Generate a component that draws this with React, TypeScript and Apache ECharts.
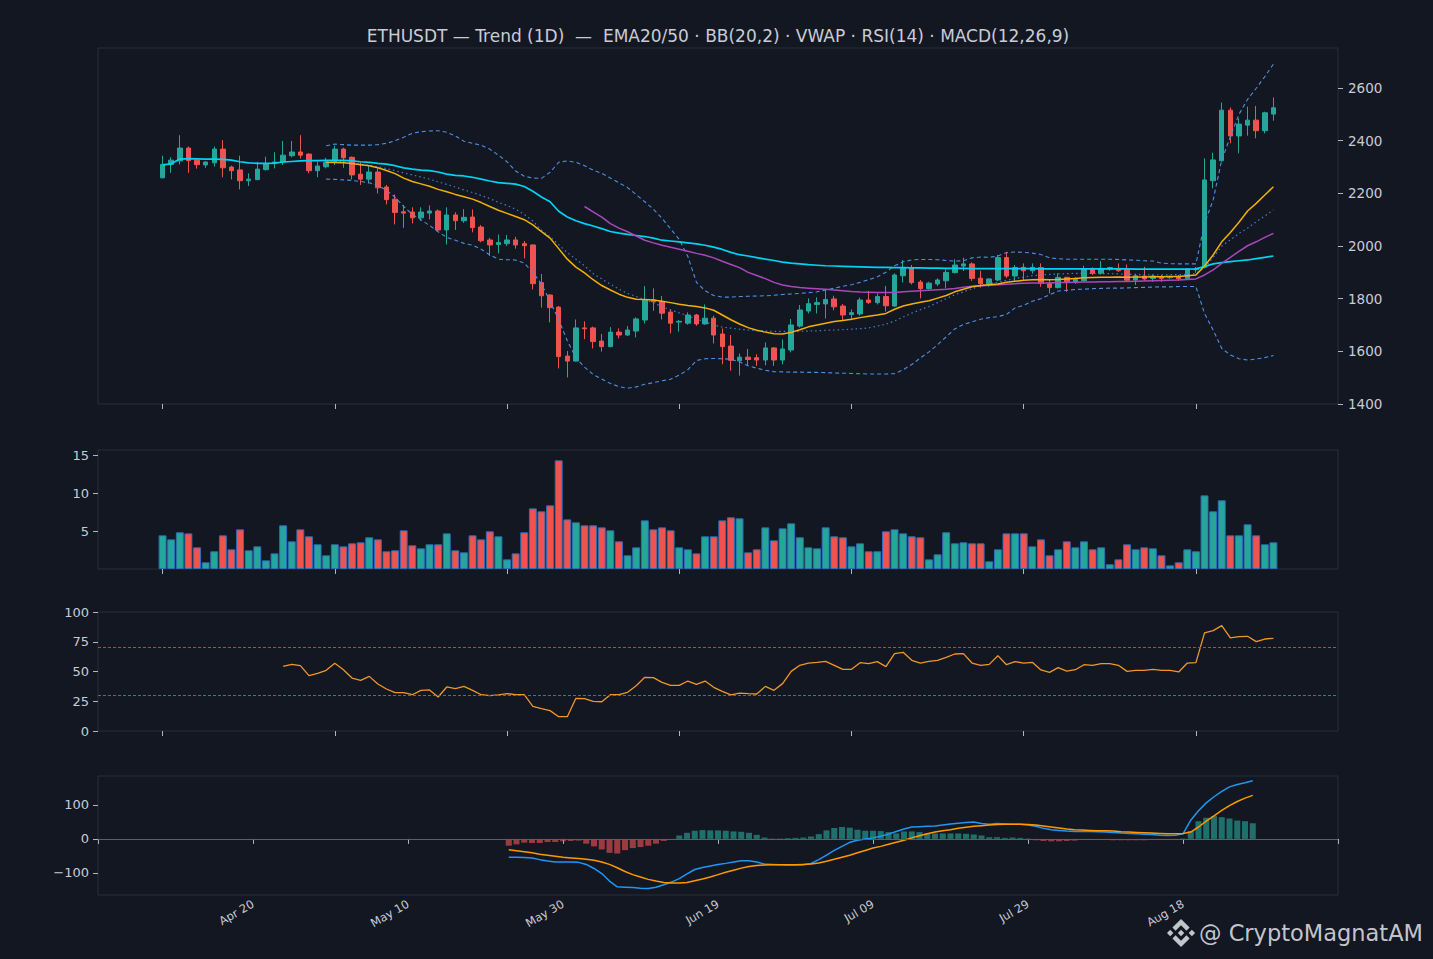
import React, { useEffect, useRef } from "react";
import * as echarts from "echarts";

// ---------- DATA ----------
const OPEN = [2259,2310,2323,2372,2326,2308,2316,2368,2300,2289,2248,2252,2290,2313,2319,2343,2357,2349,2286,2301,
2323,2368,2337,2273,2254,2281,2224,2178,2130,2129,2107,2125,2133,2061,2118,2096,2110,2072,2023,2006,
2009,2023,2009,2004,1861,1814,1768,1582,1563,1689,1689,1639,1618,1673,1662,1677,1719,1795,1789,1749,
1711,1707,1738,1704,1726,1666,1620,1564,1578,1576,1567,1613,1567,1605,1696,1753,1778,1780,1799,1772,
1740,1742,1795,1785,1808,1772,1887,1918,1863,1838,1856,1868,1899,1924,1932,1878,1856,1871,1956,1886,
1919,1906,1918,1858,1842,1881,1862,1868,1911,1897,1913,1915,1911,1871,1886,1877,1883,1880,1883,1877,
1910,1919,2248,2324,2516,2418,2459,2478,2438,2501];
const CLOSE = [2310,2326,2372,2324,2309,2319,2368,2297,2286,2248,2254,2292,2313,2319,2345,2357,2345,2286,2304,2318,
2368,2335,2270,2254,2281,2221,2176,2127,2125,2107,2129,2133,2061,2118,2096,2109,2070,2020,2004,2013,
2023,2004,2001,1857,1811,1766,1580,1563,1689,1686,1637,1618,1673,1662,1681,1723,1795,1788,1745,1707,
1714,1738,1704,1726,1662,1618,1566,1578,1569,1567,1613,1567,1609,1700,1757,1781,1785,1797,1769,1738,
1747,1795,1785,1808,1773,1890,1918,1861,1838,1859,1871,1900,1928,1932,1877,1857,1875,1956,1886,1918,
1906,1919,1858,1842,1881,1864,1873,1913,1897,1915,1918,1906,1870,1887,1875,1886,1877,1883,1875,1913,
1912,2251,2327,2516,2418,2463,2478,2438,2506,2525];
const LOW = [2257,2278,2310,2278,2294,2297,2302,2261,2253,2215,2228,2251,2287,2295,2308,2337,2333,2276,2261,2295,
2308,2297,2253,2232,2238,2200,2158,2082,2069,2086,2096,2101,2056,2006,2061,2088,2052,2014,1962,1972,
2000,1990,1953,1835,1766,1710,1535,1501,1561,1646,1611,1599,1615,1649,1658,1653,1706,1754,1721,1668,
1675,1701,1697,1701,1630,1551,1527,1508,1548,1545,1547,1545,1551,1596,1690,1744,1744,1725,1756,1715,
1718,1735,1780,1778,1751,1768,1862,1854,1801,1835,1848,1839,1896,1905,1867,1842,1845,1867,1878,1864,
1871,1895,1845,1820,1839,1826,1856,1864,1890,1892,1906,1902,1864,1852,1868,1864,1864,1875,1867,1875,
1898,1915,2219,2320,2390,2352,2419,2409,2428,2476];
const HIGH = [2343,2337,2421,2378,2333,2322,2378,2402,2305,2343,2276,2320,2339,2356,2399,2399,2421,2352,2320,2335,
2381,2373,2340,2318,2308,2295,2232,2196,2156,2147,2147,2154,2139,2147,2128,2140,2139,2080,2031,2044,
2042,2035,2019,2006,1894,1816,1772,1601,1721,1714,1694,1666,1692,1687,1696,1729,1848,1839,1810,1759,
1719,1748,1742,1778,1735,1687,1662,1592,1609,1589,1634,1616,1645,1723,1776,1801,1805,1833,1811,1780,
1759,1804,1830,1820,1848,1896,1947,1928,1871,1864,1877,1913,1950,1956,1938,1906,1877,1966,1978,1928,
1934,1934,1934,1871,1896,1883,1881,1925,1919,1943,1921,1934,1930,1894,1921,1892,1890,1887,1890,1915,
1920,2333,2354,2545,2526,2485,2529,2532,2510,2564];
const VOLUME = [4.43,3.90,4.83,4.69,2.85,0.88,2.33,4.43,2.59,5.22,
2.46,2.98,1.14,2.06,5.75,3.64,5.22,4.30,3.25,1.80,
3.25,2.98,3.38,3.51,4.17,3.90,2.33,2.46,5.09,3.12,
2.72,3.25,3.25,4.69,2.46,2.19,4.43,3.90,4.96,4.30,
1.27,2.06,4.83,7.98,7.59,8.38,14.30,6.53,6.14,5.75,
5.75,5.48,5.09,3.64,1.80,2.85,6.40,5.22,5.48,5.09,
2.85,2.59,2.06,4.30,4.30,6.40,6.80,6.67,2.19,2.59,
5.48,3.77,5.35,6.01,4.17,2.85,2.72,5.48,4.30,4.17,
2.98,3.38,2.33,2.33,4.96,5.22,4.69,4.30,4.17,1.27,
1.93,4.83,3.38,3.51,3.38,3.38,1.01,2.59,4.69,4.69,
4.69,2.98,3.90,1.80,2.59,3.64,2.85,3.64,2.59,2.85,
0.62,1.27,3.25,2.59,2.85,2.72,1.80,0.48,0.88,2.59,
2.33,9.69,7.59,9.04,4.43,4.43,5.88,4.43,3.25,3.51];

const VWAP = [2308,2312,2330,2332,2331,2330,2330,2329,2326,2320,
2316,2314,2314,2315,2319,2321,2323,2324,2324,2325,
2325,2325,2323,2320,2318,2314,2311,2305,2297,2292,
2288,2286,2281,2273,2268,2266,2261,2254,2247,2241,
2238,2235,2226,2208,2186,2168,2132,2110,2096,2085,
2076,2066,2055,2049,2044,2040,2036,2030,2022,2019,
2016,2012,2008,2003,1996,1987,1976,1967,1962,1956,
1950,1945,1939,1935,1932,1929,1927,1925,1924,1923,
1922,1921,1920,1919,1919,1918,1918,1917,1917,1916,
1916,1915,1915,1915,1914,1914,1914,1914,1914,1914,
1914,1914,1913,1913,1913,1913,1913,1913,1913,1913,
1913,1913,1913,1912,1912,1912,1912,1912,1912,1912,
1913,1922,1932,1937,1941,1944,1947,1952,1957,1962];

const BB_START = 19;
const EMA20 = [2318,2317,2316,2313,2309,2305,2297,2287,2275,2258,
2245,2236,2227,2215,2206,2196,2187,2178,2165,2150,
2136,2124,2112,2100,2080,2055,2030,1990,1950,1920,
1898,1872,1850,1833,1817,1805,1798,1797,1795,1790,
1785,1779,1774,1770,1765,1756,1738,1720,1704,1690,
1680,1673,1667,1666,1672,1682,1693,1700,1707,1713,
1717,1722,1728,1733,1738,1744,1760,1772,1780,1786,
1792,1802,1812,1826,1836,1845,1850,1853,1856,1862,
1866,1870,1872,1873,1872,1873,1875,1877,1879,1880,
1881,1881,1882,1881,1882,1882,1883,1883,1884,1884,
1887,1890,1924,1966,2016,2051,2090,2133,2162,2194,2225];
const BB_MID = [2322,2322,2320,2316,2311,2307,2301,2294,2286,2278,
2270,2262,2254,2244,2234,2224,2213,2203,2192,2180,
2166,2154,2140,2120,2095,2060,2035,2005,1975,1950,
1925,1895,1875,1855,1836,1820,1808,1797,1784,1770,
1757,1746,1735,1723,1712,1700,1692,1688,1684,1681,
1679,1677,1676,1676,1676,1676,1677,1678,1680,1681,
1682,1684,1686,1689,1696,1703,1715,1730,1745,1758,
1770,1785,1800,1815,1826,1838,1848,1856,1863,1870,
1876,1882,1887,1890,1892,1894,1895,1896,1896,1896,
1895,1895,1894,1893,1892,1891,1890,1890,1891,1891,
1892,1896,1918,1956,2000,2023,2048,2068,2092,2114,2137];
const BB_UP = [2381,2387,2385,2383,2383,2383,2385,2390,2400,2413,
2428,2434,2437,2438,2432,2418,2398,2390,2383,2368,
2345,2320,2285,2265,2258,2257,2280,2318,2323,2318,
2305,2288,2276,2258,2240,2222,2195,2168,2140,2105,
2065,2025,1960,1862,1830,1812,1806,1806,1808,1809,
1810,1811,1813,1816,1818,1820,1823,1826,1833,1840,
1847,1853,1862,1872,1883,1900,1925,1940,1947,1949,
1949,1948,1945,1943,1944,1955,1958,1957,1962,1975,
1977,1976,1973,1968,1955,1952,1950,1950,1950,1950,
1950,1950,1949,1947,1946,1944,1943,1935,1933,1932,
1932,1932,2086,2175,2327,2415,2500,2557,2599,2643,2691];
const BB_LOW = [2254,2253,2251,2249,2245,2240,2230,2212,2185,2150,
2120,2100,2078,2054,2033,2022,2010,2003,1988,1966,
1950,1948,1947,1935,1900,1855,1790,1720,1640,1575,
1540,1512,1495,1478,1466,1460,1465,1475,1481,1488,
1494,1510,1530,1565,1572,1573,1572,1570,1560,1545,
1536,1528,1523,1522,1521,1521,1520,1520,1519,1518,
1517,1516,1515,1514,1514,1514,1515,1530,1550,1575,
1598,1625,1655,1685,1702,1712,1722,1728,1732,1740,
1765,1775,1790,1800,1815,1829,1832,1835,1836,1838,
1839,1840,1840,1841,1842,1843,1844,1845,1845,1846,
1846,1846,1744,1681,1611,1586,1572,1567,1571,1576,1584];

const EMA50_START = 49;
const EMA50 = [2150,2130,2110,2085,2068,2054,2038,2022,2012,2003,
1995,1988,1980,1972,1965,1955,1942,1930,1918,1900,
1888,1876,1862,1852,1846,1842,1840,1838,1836,1833,
1830,1827,1825,1824,1823,1823,1823,1826,1828,1830,
1832,1834,1836,1839,1843,1847,1849,1851,1853,1855,
1857,1859,1860,1860,1860,1861,1861,1862,1863,1863,
1864,1864,1865,1865,1866,1867,1868,1869,1870,1871,
1873,1875,1890,1909,1934,1957,1980,2001,2016,2033,2048];

const RSI_START = 14;
const RSI = [54.3,56.0,54.9,46.5,48.5,51.0,56.9,51.5,44.5,42.6,
45.9,39.5,35.3,32.2,32.2,30.5,34.2,34.5,28.6,37.0,
35.6,37.5,34.2,30.5,29.7,30.3,31.4,30.5,30.5,20.7,
18.8,17.1,12.0,12.0,27.5,27.2,24.9,24.6,30.5,30.5,
32.5,38.1,45.1,44.8,40.9,38.4,38.4,42.0,39.2,42.0,
36.7,33.3,30.3,31.9,31.4,31.1,37.5,34.2,39.8,50.1,
55.2,57.1,57.7,58.5,55.2,51.8,51.8,57.4,56.6,58.3,
54.1,65.0,66.1,59.4,57.1,58.5,59.4,61.9,64.7,65.0,
57.1,55.2,56.0,63.3,55.7,58.3,57.1,57.7,51.3,49.3,
53.2,50.4,51.5,55.7,55.2,56.6,56.6,55.2,50.1,51.0,
51.0,51.8,51.0,51.0,49.6,57.1,57.4,82.4,84.3,88.5,
78.2,79.3,79.6,75.1,77.3,77.9];
const RSI_HIGH = 70;
const RSI_LOWER = 30;

const MACD_START = 33;
const MACD = [-54,-54,-55,-56,-61,-65,-68,-68,-68,-69,
-75,-87,-102,-124,-141,-142,-143,-145,-146,-142,
-135,-127,-117,-103,-90,-84,-80,-75,-72,-68,
-64,-64,-68,-74,-75,-76,-77,-77,-76,-72,
-61,-48,-34,-22,-10,-4,0,3,8,14,
22,29,35,36,37,38,41,44,46,48,
50,45,43,45,44,43,43,41,37,31,
27,25,23,22,22,22,21,20,19,17,
16,15,14,13,11,10,11,15,55,83,
106,124,140,153,160,165,171];
const SIGNAL = [-32,-35,-38,-41,-45,-48,-51,-54,-56,-58,
-60,-63,-68,-75,-85,-96,-105,-112,-119,-124,
-128,-130,-130,-128,-123,-118,-112,-105,-98,-92,
-86,-81,-78,-77,-76,-76,-76,-76,-75,-74,
-71,-66,-60,-54,-48,-41,-34,-27,-22,-16,
-10,-4,3,9,15,20,24,27,31,34,
37,39,41,42,43,43,43,42,41,38,
35,32,29,27,26,25,24,24,23,21,
20,19,18,17,16,15,15,16,20,35,
52,68,84,98,110,120,128];
const HIST = [-20,-16,-11,-12,-12,-9,-9,-7,-6,-5,
-14,-22,-31,-41,-43,-33,-27,-24,-20,-14,
-6,-2,10,18,24,26,25,25,24,22,
21,18,12,4,1,1,2,3,4,7,
14,25,32,35,33,27,24,24,23,20,
16,22,22,20,16,16,16,16,16,15,
13,10,5,5,3,4,3,1,-4,-6,
-7,-7,-6,-5,-3,-3,-2,-3,-4,-4,
-4,-4,-4,-3,-3,-2,-1,1,23,52,
62,67,64,60,54,52,46];

const PRICE_TICKS = [1400,1600,1800,2000,2200,2400,2600];
const VOL_TICKS = [5,10,15];
const RSI_TICKS = [0,25,50,75,100];
const MACD_TICKS = [-100,0,100];
const MONTHS = ["Jan","Feb","Mar","Apr","May","Jun","Jul","Aug","Sep","Oct","Nov","Dec"];
const FIRST_DAY = Date.UTC(2025, 3, 20); // first candle: Apr 20
const AXIS_FIRST_DAY = Date.UTC(2025, 2, 31); // date axis starts Mar 31
const DATE_AXIS_DAYS = 161;
const TITLE = "ETHUSDT \u2014 Trend (1D)  \u2014  EMA20/50 \u00b7 BB(20,2) \u00b7 VWAP \u00b7 RSI(14) \u00b7 MACD(12,26,9)";

const BINANCE_PATH = "M16.624 13.9202l2.7175 2.7154-7.353 7.353-7.353-7.352 2.7175-2.7164 4.6355 4.6595 4.6356-4.6595zm4.6366-4.6366L24 12l-2.7154 2.7164L18.5682 12l2.6924-2.7164zm-9.272.001l2.7163 2.6914-2.7164 2.7174v-.001L9.2721 12l2.7164-2.7154zm-9.2722-.001L5.4088 12l-2.6914 2.6924L0 12l2.7164-2.7164zM11.9885.0115l7.353 7.329-2.7174 2.7154-4.6356-4.6356-4.6355 4.6595-2.7174-2.7154 7.353-7.353z";

// ---------- STYLE ----------
const BG = "#131722";
const FRAME = "#2a2e39";
const TXT = "#c8ccd6";
const TICK = "#b2b5be";
const FONT = "DejaVu Sans";
const UP = "#26a69a";
const DOWN = "#ef5350";
const PAD = 7;

let registered = false;

export default function App() {
  const ref = useRef<HTMLDivElement>(null);
  useEffect(() => {
    if (!ref.current) return;
    if (!registered) {
      echarts.graphic.registerShape("binance", echarts.graphic.extendPath(BINANCE_PATH, {}) as any);
      registered = true;
    }
    const chart = echarts.init(ref.current, null, { renderer: "svg" });
    const N = OPEN.length;
    const TOTAL = PAD + N + PAD;
    const cats = Array.from({ length: TOTAL }, (_, i) => String(i - PAD));
    const padTop = (arr: number[], start: number) => {
      const out: any[] = new Array(TOTAL).fill(null);
      arr.forEach((v, j) => { out[PAD + start + j] = v; });
      return out;
    };
    const dayOffset = Math.round((FIRST_DAY - AXIS_FIRST_DAY) / 86400000);
    const dateCats = Array.from({ length: DATE_AXIS_DAYS }, (_, i) => {
      const d = new Date(AXIS_FIRST_DAY + i * 86400000);
      return MONTHS[d.getUTCMonth()] + " " + String(d.getUTCDate()).padStart(2, "0");
    });
    const padDate = (arr: number[], start: number) => {
      const out: any[] = new Array(DATE_AXIS_DAYS).fill(null);
      arr.forEach((v, j) => { out[dayOffset + start + j] = v; });
      return out;
    };

    const candles: any[] = new Array(TOTAL).fill(null).map(() => ["-", "-", "-", "-"]);
    for (let i = 0; i < N; i++) candles[PAD + i] = [OPEN[i], CLOSE[i], LOW[i], HIGH[i]];
    const vols: any[] = new Array(TOTAL).fill("-");
    for (let i = 0; i < N; i++) {
      vols[PAD + i] = { value: VOLUME[i], itemStyle: { color: CLOSE[i] >= OPEN[i] ? UP : DOWN } };
    }
    const hist: any[] = new Array(DATE_AXIS_DAYS).fill("-");
    HIST.forEach((v, j) => {
      hist[dayOffset + MACD_START + j] = {
        value: v,
        itemStyle: { color: v >= 0 ? "rgba(38,166,154,0.62)" : "rgba(239,83,80,0.62)" },
      };
    });

    const grids = [
      { top: 48, height: 356 },
      { top: 450, height: 119 },
      { top: 612, height: 119 },
      { top: 776, height: 119 },
    ].map((g) => ({
      left: 98, width: 1240, top: g.top, height: g.height, show: true,
      borderColor: FRAME, borderWidth: 1, backgroundColor: "transparent", containLabel: false,
    }));

    const topX = (gi: number) => ({
      type: "category", gridIndex: gi, data: cats, boundaryGap: true,
      axisLine: { show: false }, splitLine: { show: false },
      axisLabel: { show: false },
      axisTick: {
        show: true, alignWithLabel: true, length: 5, lineStyle: { color: TICK, width: 1 },
        interval: (i: number) => i >= PAD && (i - PAD) % 20 === 0,
      },
    });
    const lbl = { color: TXT, fontFamily: FONT, fontSize: 13 };
    const yTick = { show: true, length: 5, lineStyle: { color: TICK, width: 1 } };

    const option: any = {
      animation: false,
      backgroundColor: BG,
      textStyle: { fontFamily: FONT },
      grid: grids,
      xAxis: [
        topX(0), topX(1), topX(2),
        {
          type: "category", gridIndex: 3, data: dateCats, boundaryGap: false,
          axisLine: { show: false }, splitLine: { show: false },
          axisTick: { show: true, length: 5, lineStyle: { color: TICK, width: 1 }, interval: (i: number) => i % 20 === 0 },
          axisLabel: {
            show: true, rotate: 30, margin: 8, color: TXT, fontFamily: FONT, fontSize: 11.5,
            interval: (i: number) => i % 20 === 0 && i > 0 && i < DATE_AXIS_DAYS - 1,
          },
        },
      ],
      yAxis: [
        {
          type: "value", gridIndex: 0, position: "right", min: 1400, max: 2752, scale: true,
          axisLine: { show: false }, splitLine: { show: false },
          axisTick: { ...yTick, customValues: PRICE_TICKS },
          axisLabel: { ...lbl, fontSize: 13.5, margin: 10, customValues: PRICE_TICKS, formatter: (v: number) => String(v) },
        },
        {
          type: "value", gridIndex: 1, position: "left", min: 0, max: 15.66,
          axisLine: { show: false }, splitLine: { show: false },
          axisTick: { ...yTick, customValues: VOL_TICKS },
          axisLabel: { ...lbl, margin: 9, customValues: VOL_TICKS, formatter: (v: number) => String(v) },
        },
        {
          type: "value", gridIndex: 2, position: "left", min: 0, max: 100,
          axisLine: { show: false }, splitLine: { show: false },
          axisTick: { ...yTick, customValues: RSI_TICKS },
          axisLabel: { ...lbl, margin: 9, customValues: RSI_TICKS, formatter: (v: number) => String(v) },
        },
        {
          type: "value", gridIndex: 3, position: "left", min: -165, max: 185,
          axisLine: { show: false }, splitLine: { show: false },
          axisTick: { ...yTick, customValues: MACD_TICKS },
          axisLabel: {
            ...lbl, margin: 9, customValues: MACD_TICKS,
            formatter: (v: number) => (v < 0 ? "\u2212" + Math.abs(v) : String(v)),
          },
        },
      ],
      series: [
        {
          type: "candlestick", xAxisIndex: 0, yAxisIndex: 0, data: candles, barWidth: 5, z: 2,
          itemStyle: { color: UP, color0: DOWN, borderColor: UP, borderColor0: DOWN, borderWidth: 1 },
        },
        {
          type: "line", xAxisIndex: 0, yAxisIndex: 0, data: padTop(BB_UP, BB_START), showSymbol: false, z: 3,
          lineStyle: { color: "#4d8fe3", width: 1.1, type: [4, 3] },
        },
        {
          type: "line", xAxisIndex: 0, yAxisIndex: 0, data: padTop(BB_LOW, BB_START), showSymbol: false, z: 3,
          lineStyle: { color: "#4d8fe3", width: 1.1, type: [4, 3] },
        },
        {
          type: "line", xAxisIndex: 0, yAxisIndex: 0, data: padTop(BB_MID, BB_START), showSymbol: false, z: 3,
          lineStyle: { color: "#4d8fe3", opacity: 0.85, width: 1.2, type: [1.5, 3] },
        },
        {
          type: "line", xAxisIndex: 0, yAxisIndex: 0, data: padTop(VWAP, 0), showSymbol: false, z: 4,
          lineStyle: { color: "#00d4f5", width: 1.7 },
        },
        {
          type: "line", xAxisIndex: 0, yAxisIndex: 0, data: padTop(EMA50, EMA50_START), showSymbol: false, z: 4,
          lineStyle: { color: "#ab47bc", width: 1.5 },
        },
        {
          type: "line", xAxisIndex: 0, yAxisIndex: 0, data: padTop(EMA20, BB_START), showSymbol: false, z: 4,
          lineStyle: { color: "#f2b10a", width: 1.5 },
        },
        {
          type: "bar", xAxisIndex: 1, yAxisIndex: 1, data: vols, barWidth: "92%",
          itemStyle: { borderColor: "#2c6fb8", borderWidth: 1 },
        },
        {
          type: "line", xAxisIndex: 2, yAxisIndex: 2, data: padTop(RSI, RSI_START), showSymbol: false,
          lineStyle: { color: "#f0962a", width: 1.3 },
          markLine: {
            silent: true, symbol: ["none", "none"], label: { show: false },
            data: [
              { yAxis: RSI_HIGH, lineStyle: { color: "#b9434a", width: 1, type: [3, 2] } },
              { yAxis: RSI_LOWER, lineStyle: { color: "#1f8a82", width: 1, type: [3, 2] } },
            ],
          },
        },
        {
          type: "bar", xAxisIndex: 3, yAxisIndex: 3, data: hist, barWidth: "78%",
          markLine: {
            silent: true, symbol: ["none", "none"], label: { show: false },
            lineStyle: { color: "#5d606b", width: 1, type: "solid" },
            data: [{ yAxis: 0 }],
          },
        },
        {
          type: "line", xAxisIndex: 3, yAxisIndex: 3, data: padDate(MACD, MACD_START), showSymbol: false,
          lineStyle: { color: "#2196f3", width: 1.5 },
        },
        {
          type: "line", xAxisIndex: 3, yAxisIndex: 3, data: padDate(SIGNAL, MACD_START), showSymbol: false,
          lineStyle: { color: "#ff9800", width: 1.5 },
        },
      ],
      graphic: [
        {
          type: "text", x: 718, y: 36, silent: true,
          style: { text: TITLE, fill: "#c9ccd4", fontSize: 17, fontFamily: FONT, textAlign: "center", textVerticalAlign: "middle" },
        },
        {
          type: "binance", x: 1167, y: 919, scaleX: 1.17, scaleY: 1.17, silent: true,
          style: { fill: "#d6d8dd", opacity: 0.9 },
        },
        {
          type: "text", x: 1199, y: 933, silent: true,
          style: { text: "@ CryptoMagnatAM", fill: "#dcdde1", opacity: 0.9, fontSize: 22.5, fontFamily: FONT, textAlign: "left", textVerticalAlign: "middle" },
        },
      ],
    };
    chart.setOption(option);
    return () => chart.dispose();
  }, []);
  return (
    <div
      ref={ref}
      style={{ position: "fixed", left: 0, top: 0, width: 1433, height: 959, background: BG }}
    />
  );
}
